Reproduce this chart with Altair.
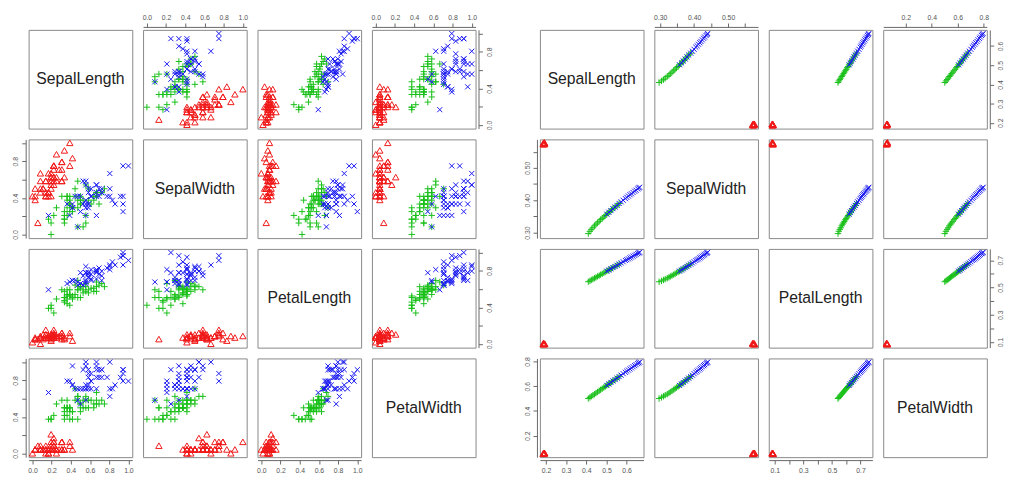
import json
import altair as alt
import pandas as pd

VARS = ["SepalLength", "SepalWidth", "PetalLength", "PetalWidth"]
SPECIES = ["setosa", "versicolor", "virginica"]
COLORS = ["#f01818", "#18c018", "#1818f0"]
SHAPES = ["M0,-0.95L1,0.8L-1,0.8Z", "M-1,0L1,0M0,-1L0,1",
          "M-0.8,-0.8L0.8,0.8M-0.8,0.8L0.8,-0.8"]
FONT = "Liberation Sans"

# ---- left matrix: min-max scaled iris measurements ----
left_sepal_length = [
    .222, .167, .111, .083, .194, .306, .083, .194, .028, .167,
    .306, .139, .139, .000, .417, .389, .306, .222, .389, .222,
    .306, .222, .083, .222, .139, .194, .194, .250, .250, .111,
    .139, .306, .250, .333, .167, .194, .333, .167, .028, .222,
    .194, .056, .028, .194, .222, .139, .222, .083, .278, .194,
    .750, .583, .722, .333, .611, .389, .556, .167, .639, .250,
    .194, .444, .472, .500, .361, .667, .361, .417, .528, .361,
    .444, .500, .556, .500, .583, .639, .694, .667, .472, .389,
    .333, .333, .417, .472, .306, .472, .667, .556, .361, .333,
    .333, .500, .417, .194, .361, .389, .389, .528, .222, .389,
    .556, .417, .778, .556, .611, .917, .167, .833, .667, .806,
    .611, .583, .694, .389, .417, .583, .611, .944, .944, .472,
    .722, .361, .944, .556, .667, .806, .528, .500, .583, .806,
    .861, 1.000, .583, .556, .500, .944, .556, .583, .472, .722,
    .667, .722, .417, .694, .667, .667, .556, .611, .528, .444]
left_sepal_width = [
    .625, .417, .500, .458, .667, .792, .583, .583, .375, .458,
    .708, .583, .417, .417, .833, 1.000, .792, .625, .750, .750,
    .583, .708, .667, .542, .583, .417, .583, .625, .583, .500,
    .458, .583, .875, .917, .458, .500, .625, .667, .417, .583,
    .625, .125, .500, .625, .750, .417, .750, .500, .708, .542,
    .500, .500, .458, .125, .333, .333, .542, .167, .375, .292,
    .000, .417, .083, .375, .375, .458, .417, .292, .083, .208,
    .500, .333, .208, .333, .375, .417, .333, .417, .375, .250,
    .167, .167, .292, .292, .417, .583, .458, .125, .417, .208,
    .250, .417, .250, .125, .292, .417, .375, .375, .208, .333,
    .542, .292, .417, .375, .417, .417, .208, .375, .208, .667,
    .500, .292, .417, .208, .333, .500, .417, .750, .250, .083,
    .500, .333, .333, .292, .542, .500, .333, .417, .333, .417,
    .333, .750, .333, .333, .250, .417, .583, .458, .417, .458,
    .458, .458, .292, .500, .542, .417, .208, .417, .583, .417]
left_petal_length = [
    .068, .068, .051, .085, .068, .119, .068, .085, .068, .085,
    .085, .102, .068, .017, .034, .085, .051, .068, .119, .085,
    .119, .085, .000, .119, .153, .102, .102, .085, .068, .102,
    .102, .085, .085, .068, .085, .034, .051, .068, .051, .085,
    .051, .051, .051, .102, .153, .068, .102, .068, .085, .068,
    .627, .593, .661, .508, .610, .593, .627, .390, .610, .492,
    .424, .542, .508, .627, .441, .576, .593, .525, .593, .492,
    .644, .508, .661, .627, .559, .576, .644, .678, .593, .424,
    .475, .458, .492, .695, .593, .593, .627, .576, .525, .508,
    .576, .610, .508, .390, .542, .542, .542, .559, .339, .525,
    .847, .695, .831, .780, .814, .949, .593, .898, .814, .864,
    .695, .729, .763, .678, .695, .729, .763, .966, 1.000, .678,
    .797, .661, .966, .661, .797, .847, .644, .661, .780, .814,
    .864, .915, .780, .695, .780, .864, .780, .763, .644, .746,
    .780, .695, .695, .831, .797, .712, .678, .712, .746, .695]
left_petal_width = [
    .042, .042, .042, .042, .042, .125, .083, .042, .042, .000,
    .042, .042, .000, .000, .042, .125, .125, .083, .083, .083,
    .042, .125, .042, .167, .042, .042, .125, .042, .042, .042,
    .042, .125, .000, .042, .042, .042, .042, .000, .042, .042,
    .083, .083, .042, .208, .125, .083, .042, .042, .042, .042,
    .542, .583, .583, .500, .583, .500, .625, .375, .500, .542,
    .375, .583, .375, .542, .500, .542, .583, .375, .583, .417,
    .708, .500, .583, .458, .500, .542, .542, .667, .583, .375,
    .417, .375, .458, .625, .583, .625, .583, .500, .500, .500,
    .458, .542, .458, .375, .500, .458, .500, .500, .417, .500,
    1.000, .750, .833, .708, .875, .833, .667, .708, .708, 1.000,
    .792, .750, .833, .792, .958, .917, .708, .875, .917, .583,
    .917, .792, .792, .708, .833, .708, .708, .708, .833, .625,
    .750, .792, .875, .583, .542, .917, .958, .708, .708, .833,
    .958, .917, .750, .917, 1.000, .917, .750, .792, .917, .708]
left_species = ["setosa"] * 50 + ["versicolor"] * 50 + ["virginica"] * 50

# ---- right matrix: transformed values ----
right_sepal_length = [
    0.186, 0.190, 0.194, 0.188, 0.192, 0.189, 0.193, 0.187,
    0.410, 0.418, 0.425, 0.433, 0.441, 0.448, 0.456, 0.464, 0.471, 0.479,
    0.487, 0.494, 0.502, 0.509, 0.517, 0.525, 0.532, 0.543, 0.553, 0.563,
    0.502, 0.512, 0.522, 0.532, 0.543, 0.553, 0.563, 0.573, 0.583, 0.594,
    0.601, 0.609, 0.617, 0.624, 0.632, 0.640, 0.647, 0.655, 0.660, 0.665]
right_sepal_width = [
    0.574, 0.577, 0.575, 0.572, 0.578, 0.576, 0.573, 0.575,
    0.297, 0.304, 0.310, 0.315, 0.321, 0.326, 0.330, 0.335, 0.340, 0.344,
    0.348, 0.353, 0.357, 0.361, 0.365, 0.370, 0.374, 0.379, 0.384, 0.390,
    0.357, 0.363, 0.368, 0.374, 0.379, 0.384, 0.390, 0.395, 0.400, 0.405,
    0.409, 0.413, 0.417, 0.420, 0.424, 0.428, 0.431, 0.435, 0.438, 0.440]
right_petal_length = [
    0.083, 0.087, 0.085, 0.089, 0.081, 0.086, 0.084, 0.088,
    0.542, 0.548, 0.555, 0.561, 0.568, 0.574, 0.581, 0.587, 0.594, 0.600,
    0.607, 0.613, 0.620, 0.626, 0.633, 0.639, 0.646, 0.654, 0.663, 0.672,
    0.620, 0.628, 0.637, 0.646, 0.654, 0.663, 0.672, 0.680, 0.689, 0.698,
    0.704, 0.710, 0.717, 0.723, 0.730, 0.736, 0.743, 0.749, 0.754, 0.758]
right_petal_width = [
    0.053, 0.057, 0.055, 0.051, 0.059, 0.054, 0.056, 0.052,
    0.500, 0.509, 0.518, 0.527, 0.535, 0.544, 0.553, 0.562, 0.571, 0.580,
    0.589, 0.597, 0.606, 0.615, 0.624, 0.633, 0.642, 0.653, 0.665, 0.677,
    0.606, 0.618, 0.630, 0.642, 0.653, 0.665, 0.677, 0.689, 0.701, 0.712,
    0.721, 0.730, 0.739, 0.748, 0.757, 0.766, 0.774, 0.783, 0.789, 0.795]
right_species = ["setosa"] * 8 + ["versicolor"] * 20 + ["virginica"] * 20

# ---- axis settings ----
left_ticks = [0.0, 0.2, 0.4, 0.6, 0.8, 1.0]
AXES = {
    "left": {v: dict(domain=[-0.04, 1.04], ticks=left_ticks, fmt=".1f",
                     xlab=None, ylab=["0.0", "0.4", "0.8"]) for v in VARS},
    "right": {
        "SepalLength": dict(domain=[0.17, 0.684], ticks=[0.2, 0.3, 0.4, 0.5, 0.6],
                            fmt=".1f", xlab=None, ylab=None),
        "SepalWidth": dict(domain=[0.283, 0.588],
                           ticks=[0.30, 0.35, 0.40, 0.45, 0.50, 0.55], fmt=".2f",
                           xlab=["0.30", "0.40", "0.50"], ylab=["0.30", "0.40", "0.50"]),
        "PetalLength": dict(domain=[0.058, 0.783],
                            ticks=[0.1, 0.2, 0.3, 0.4, 0.5, 0.6, 0.7], fmt=".1f",
                            xlab=["0.1", "0.3", "0.5", "0.7"], ylab=["0.1", "0.3", "0.5", "0.7"]),
        "PetalWidth": dict(domain=[0.026, 0.824], ticks=[0.2, 0.4, 0.6, 0.8],
                           fmt=".1f", xlab=None, ylab=None),
    },
}

W, H = 105.5, 100.5
GAP = 10.5
SPACER_W = 43.5

left_df = pd.DataFrame({"SepalLength": left_sepal_length, "SepalWidth": left_sepal_width,
                        "PetalLength": left_petal_length, "PetalWidth": left_petal_width,
                        "species": left_species})
right_df = pd.DataFrame({"SepalLength": right_sepal_length, "SepalWidth": right_sepal_width,
                         "PetalLength": right_petal_length, "PetalWidth": right_petal_width,
                         "species": right_species})
DATA = {"left": left_df, "right": right_df}


def make_axis(spec, orient, labels):
    kw = dict(orient=orient, values=spec["ticks"], format=spec["fmt"], title=None,
              grid=False, offset=3, tickSize=4, labelFontSize=7, labelFont=FONT,
              labelColor="#555555", domainColor="#666666", tickColor="#666666",
              labelOverlap=False, labelFlush=False, labelPadding=3)
    if labels is not None:
        kw["labelExpr"] = "indexof(%s, datum.label) >= 0 ? datum.label : ''" % json.dumps(labels)
    if orient in ("left", "right"):
        kw.update(labelAngle=270, labelAlign="center",
                  labelBaseline="bottom" if orient == "left" else "top")
    return alt.Axis(**kw)


def panel(m, i, j):
    if i == j:
        return alt.Chart(pd.DataFrame({"name": [VARS[i]]})).mark_text(
            fontSize=16, font=FONT, color="#222222"
        ).encode(text="name:N", x=alt.value(W / 2), y=alt.value(H / 2)).properties(width=W, height=H)
    xv, yv = VARS[j], VARS[i]
    xs, ys = AXES[m][xv], AXES[m][yv]
    xaxis = None
    if i == 0 and j % 2 == 1:
        xaxis = make_axis(xs, "top", xs["xlab"])
    elif i == 3 and j % 2 == 0:
        xaxis = make_axis(xs, "bottom", xs["xlab"])
    yaxis = None
    if j == 0 and i % 2 == 1:
        yaxis = make_axis(ys, "left", ys["ylab"])
    elif j == 3 and i % 2 == 0:
        yaxis = make_axis(ys, "right", ys["ylab"])
    return alt.Chart(DATA[m]).mark_point(filled=False, size=42, strokeWidth=1, opacity=1).encode(
        x=alt.X(f"{xv}:Q", scale=alt.Scale(domain=xs["domain"], nice=False, zero=False), axis=xaxis),
        y=alt.Y(f"{yv}:Q", scale=alt.Scale(domain=ys["domain"], nice=False, zero=False), axis=yaxis),
        color=alt.Color("species:N", scale=alt.Scale(domain=SPECIES, range=COLORS), legend=None),
        shape=alt.Shape("species:N", scale=alt.Scale(domain=SPECIES, range=SHAPES), legend=None),
    ).properties(width=W, height=H)


def spacer():
    return alt.Chart(pd.DataFrame({"name": [""]})).mark_text().encode(
        text="name:N", x=alt.value(0), y=alt.value(0)
    ).properties(width=SPACER_W, height=H, view=alt.ViewBackground(strokeOpacity=0))


cells = []
for i in range(4):
    cells += [panel("left", i, j) for j in range(4)]
    cells.append(spacer())
    cells += [panel("right", i, j) for j in range(4)]

chart = alt.concat(*cells, columns=9, spacing=GAP, bounds="flush", align="each").properties(
    padding={"left": 3, "top": 0, "right": 2, "bottom": 2}
).configure_view(stroke="#888888", strokeWidth=1)

chart.save("out.html", embed_options={"renderer": "svg", "actions": False})
